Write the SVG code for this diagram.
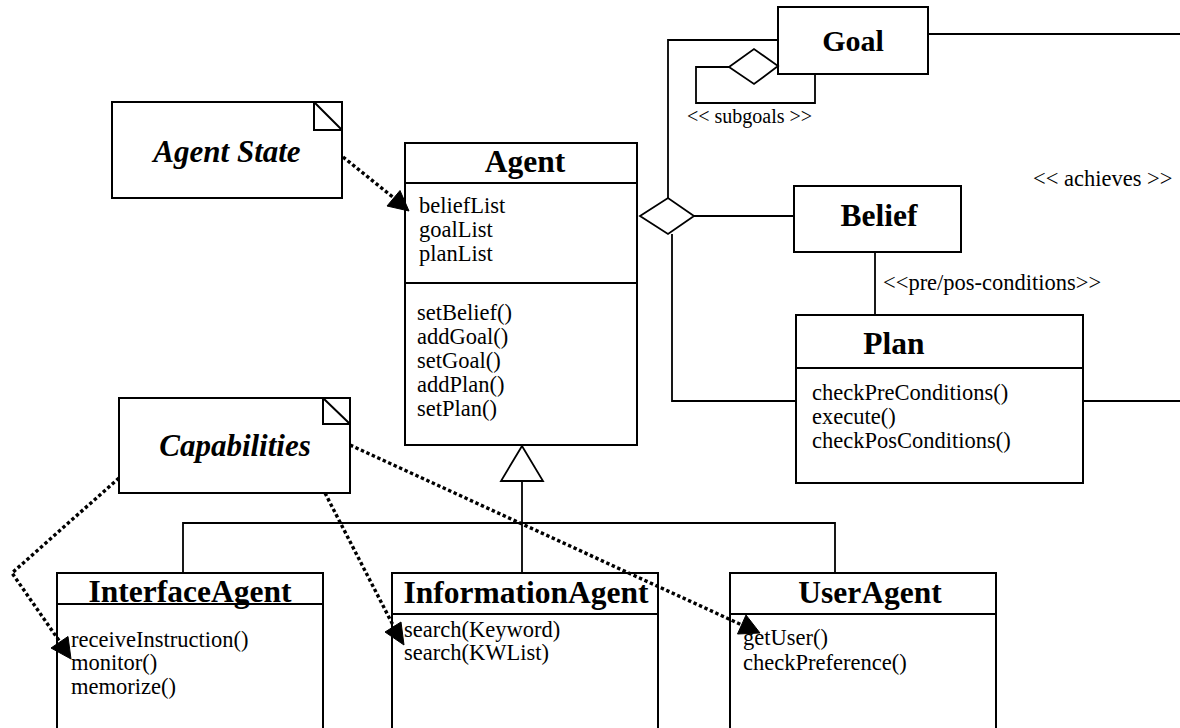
<svg xmlns="http://www.w3.org/2000/svg" width="1180" height="728" viewBox="0 0 1180 728">
  <style>
    .box { fill: #fff; stroke: #000; stroke-width: 2; }
    .sep { stroke: #000; stroke-width: 2; fill: none; }
    .line { stroke: #000; stroke-width: 1.8; fill: none; }
    .dot { stroke: #000; stroke-width: 3.4; fill: none; stroke-dasharray: 3.4 2.6; }
    .head { fill: #000; stroke: #000; stroke-width: 1; stroke-linejoin: miter; }
    .title { font-family: "Liberation Serif", "Times New Roman", serif; font-weight: bold; font-size: 31.5px; text-anchor: middle; fill: #000; }
    .note { font-family: "Liberation Serif", "Times New Roman", serif; font-weight: bold; font-style: italic; font-size: 31px; text-anchor: middle; fill: #000; }
    .member { font-family: "Liberation Serif", "Times New Roman", serif; font-size: 22.5px; fill: #000; }
    .label { font-family: "Liberation Serif", "Times New Roman", serif; font-size: 22.5px; fill: #000; }
  </style>

  <rect width="1180" height="728" fill="#fff"/>

  <g id="agent-state">
    <rect class="box" x="112" y="102" width="230" height="96"/>
    <path class="sep" d="M314,102 V130 H342 M314,102 L342,130"/>
    <text class="note" x="227" y="162">Agent State</text>
  </g>

  <g id="capabilities">
    <rect class="box" x="119" y="398" width="231" height="95"/>
    <path class="sep" d="M323,398 V424 H350 M323,398 L350,424"/>
    <text class="note" x="235" y="456">Capabilities</text>
  </g>

  <g id="agent">
    <rect class="box" x="405" y="143" width="232" height="302"/>
    <line class="sep" x1="405" y1="183" x2="637" y2="183"/>
    <line class="sep" x1="405" y1="283" x2="637" y2="283"/>
    <text class="title" x="525" y="172">Agent</text>
    <text class="member" x="419" y="213">beliefList</text>
    <text class="member" x="419" y="237">goalList</text>
    <text class="member" x="419" y="261">planList</text>
    <text class="member" x="417" y="320">setBelief()</text>
    <text class="member" x="417" y="344">addGoal()</text>
    <text class="member" x="417" y="368">setGoal()</text>
    <text class="member" x="417" y="392">addPlan()</text>
    <text class="member" x="417" y="416">setPlan()</text>
  </g>

  <g id="goal">
    <rect class="box" x="778" y="7" width="150" height="67"/>
    <text class="title" x="853" y="51" style="font-size:30px">Goal</text>
  </g>

  <g id="belief">
    <rect class="box" x="794" y="186" width="167" height="66"/>
    <text class="title" x="879" y="226">Belief</text>
  </g>

  <g id="plan">
    <rect class="box" x="796" y="315" width="287" height="168"/>
    <line class="sep" x1="796" y1="368" x2="1083" y2="368"/>
    <text class="title" x="894" y="354">Plan</text>
    <text class="member" x="812" y="400">checkPreConditions()</text>
    <text class="member" x="812" y="424">execute()</text>
    <text class="member" x="812" y="448">checkPosConditions()</text>
  </g>

  <g id="interface-agent">
    <rect class="box" x="57" y="573" width="266" height="170"/>
    <line class="sep" x1="57" y1="604" x2="323" y2="604"/>
    <text class="title" x="190" y="602">InterfaceAgent</text>
    <text class="member" x="71" y="647">receiveInstruction()</text>
    <text class="member" x="71" y="670">monitor()</text>
    <text class="member" x="71" y="694">memorize()</text>
  </g>

  <g id="information-agent">
    <rect class="box" x="392" y="573" width="266" height="170"/>
    <line class="sep" x1="392" y1="614" x2="658" y2="614"/>
    <text class="title" x="526" y="603">InformationAgent</text>
    <text class="member" x="404" y="637">search(Keyword)</text>
    <text class="member" x="404" y="660">search(KWList)</text>
  </g>

  <g id="user-agent">
    <rect class="box" x="730" y="573" width="266" height="170"/>
    <line class="sep" x1="730" y1="614" x2="996" y2="614"/>
    <text class="title" x="870" y="603">UserAgent</text>
    <text class="member" x="743" y="645">getUser()</text>
    <text class="member" x="743" y="670">checkPreference()</text>
  </g>

  <!-- associations, aggregations, generalisation and dependencies -->
  <g id="connectors">
    <!-- Agent aggregate: diamond with branches to Goal, Belief, Plan -->
    <polyline class="line" points="668,198 668,40 778,40"/>
    <polyline class="line" points="672,234 672,401 796,401"/>
    <line class="line" x1="694" y1="216" x2="794" y2="216"/>
    <polygon class="line" points="640,216 668,198 694,216 668,234" fill="#fff"/>

    <!-- Goal subgoals self-aggregation -->
    <polyline class="line" points="729,67 696,67 696,103 815,103 815,74"/>
    <polygon class="line" points="729,67 754,49 778,66 754,84" fill="#fff"/>

    <!-- achieves: Goal to Plan, leaving the canvas -->
    <line class="line" x1="928" y1="34" x2="1180" y2="34"/>
    <line class="line" x1="1082" y1="401" x2="1180" y2="401"/>

    <!-- Belief / Plan conditions -->
    <line class="line" x1="875" y1="252" x2="875" y2="315"/>

    <!-- generalisation Agent <- subclasses -->
    <polygon class="line" points="522,446 501,481 543,481" fill="#fff"/>
    <line class="line" x1="522" y1="481" x2="522" y2="573"/>
    <polyline class="line" points="183,573 183,523 835,523 835,573"/>

    <!-- dependencies from the notes, each with a filled arrowhead -->
    <line class="dot" x1="343" y1="157" x2="394" y2="198"/>
    <polygon class="head" points="409,211 387,206 400,190.5"/>

    <polyline class="dot" points="119,478 12,573 60,642"/>
    <polygon class="head" points="71,659 51,648 68,636.5"/>

    <line class="dot" x1="325" y1="493" x2="394" y2="627"/>
    <polygon class="head" points="404,645 385,632 401,622"/>

    <line class="dot" x1="350" y1="445" x2="742" y2="625"/>
    <polygon class="head" points="760,633 737.5,634 746,615"/>
  </g>

  <text class="label" x="687" y="123" style="font-size:20px">&lt;&lt; subgoals &gt;&gt;</text>
  <text class="label" x="1033" y="186">&lt;&lt; achieves &gt;&gt;</text>
  <text class="label" x="883" y="290">&lt;&lt;pre/pos-conditions&gt;&gt;</text>
</svg>
